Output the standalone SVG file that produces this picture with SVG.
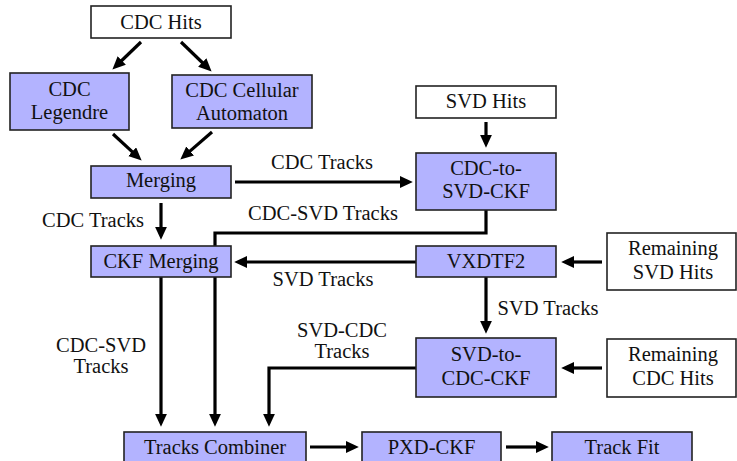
<svg xmlns="http://www.w3.org/2000/svg" width="737" height="461" viewBox="0 0 737 461" font-family="Liberation Serif, DejaVu Serif, serif">
<style>
text { font-size: 20.5px; fill: #111; text-anchor: middle; }
.proc { fill: #b3b3ff; stroke: #222; stroke-width: 1.6; }
.data { fill: #ffffff; stroke: #222; stroke-width: 1.6; }
.conn { fill: none; stroke: #000; stroke-width: 3.2; marker-end: url(#ah); stroke-linejoin: miter; }
</style>
<defs>
<marker id="ah" markerUnits="userSpaceOnUse" markerWidth="13" markerHeight="12" refX="2" refY="5.5" orient="auto" viewBox="0 0 12 11">
<path d="M0,0 L12,5.5 L0,11 Z" fill="#000"/>
</marker>
</defs>
<rect width="737" height="461" fill="#fff"/>
<g id="connectors">
<path class="conn" d="M141,42 L120.2,62.0"/>
<path class="conn" d="M181,42 L203.8,64.0"/>
<path class="conn" d="M113,134 L133.7,153.2"/>
<path class="conn" d="M212,132 L188.5,152.4"/>
<path class="conn" d="M235,182 H402"/>
<path class="conn" d="M486,122 V137"/>
<path class="conn" d="M161,203 V229"/>
<path class="conn" d="M416,262 H245"/>
<path class="conn" d="M602,262 H572"/>
<path class="conn" d="M486,210 V233 H215 V416"/>
<path class="conn" d="M161,277 V416"/>
<path class="conn" d="M486,277 V323"/>
<path class="conn" d="M602,368 H572"/>
<path class="conn" d="M416,368 H269 V416"/>
<path class="conn" d="M310,447 H348"/>
<path class="conn" d="M506,447 H538"/>
<text x="322" y="169">CDC Tracks</text>
<text x="323" y="220">CDC-SVD Tracks</text>
<text x="93" y="227">CDC Tracks</text>
<text x="323" y="286">SVD Tracks</text>
<text x="548" y="315">SVD Tracks</text>
<text x="342" y="337">SVD-CDC</text>
<text x="342" y="358">Tracks</text>
<text x="101" y="352">CDC-SVD</text>
<text x="101" y="373">Tracks</text>
</g>
<g id="cdc-hits">
<rect class="data" x="91" y="6" width="140" height="32"/>
<text x="161" y="29">CDC Hits</text>
</g>
<g id="cdc-legendre">
<rect class="proc" x="10" y="73" width="119" height="57"/>
<text x="69.5" y="96">CDC</text>
<text x="69.5" y="119">Legendre</text>
</g>
<g id="cdc-cellular">
<rect class="proc" x="172" y="75" width="140" height="53"/>
<text x="242" y="97">CDC Cellular</text>
<text x="242" y="120">Automaton</text>
</g>
<g id="merging">
<rect class="proc" x="91" y="166" width="140" height="32"/>
<text x="161" y="187">Merging</text>
</g>
<g id="svd-hits">
<rect class="data" x="416" y="86" width="140" height="32"/>
<text x="486" y="108">SVD Hits</text>
</g>
<g id="cdc-to-svd-ckf">
<rect class="proc" x="416" y="153" width="140" height="57"/>
<text x="486" y="175">CDC-to-</text>
<text x="486" y="198">SVD-CKF</text>
</g>
<g id="ckf-merging">
<rect class="proc" x="91" y="246" width="140" height="31"/>
<text x="161" y="268">CKF Merging</text>
</g>
<g id="vxdtf2">
<rect class="proc" x="416" y="246" width="140" height="31"/>
<text x="486" y="268">VXDTF2</text>
</g>
<g id="remaining-svd-hits">
<rect class="data" x="607" y="233" width="129" height="57"/>
<text x="673" y="255">Remaining</text>
<text x="673" y="279">SVD Hits</text>
</g>
<g id="svd-to-cdc-ckf">
<rect class="proc" x="416" y="338" width="140" height="59"/>
<text x="486" y="361">SVD-to-</text>
<text x="486" y="385">CDC-CKF</text>
</g>
<g id="remaining-cdc-hits">
<rect class="data" x="607" y="339" width="129" height="58"/>
<text x="673" y="361">Remaining</text>
<text x="673" y="385">CDC Hits</text>
</g>
<g id="tracks-combiner">
<rect class="proc" x="124" y="432" width="182" height="36"/>
<text x="215" y="454">Tracks Combiner</text>
</g>
<g id="pxd-ckf">
<rect class="proc" x="362" y="432" width="139" height="36"/>
<text x="431.5" y="454">PXD-CKF</text>
</g>
<g id="track-fit">
<rect class="proc" x="552" y="432" width="140" height="36"/>
<text x="622" y="454">Track Fit</text>
</g>
</svg>
